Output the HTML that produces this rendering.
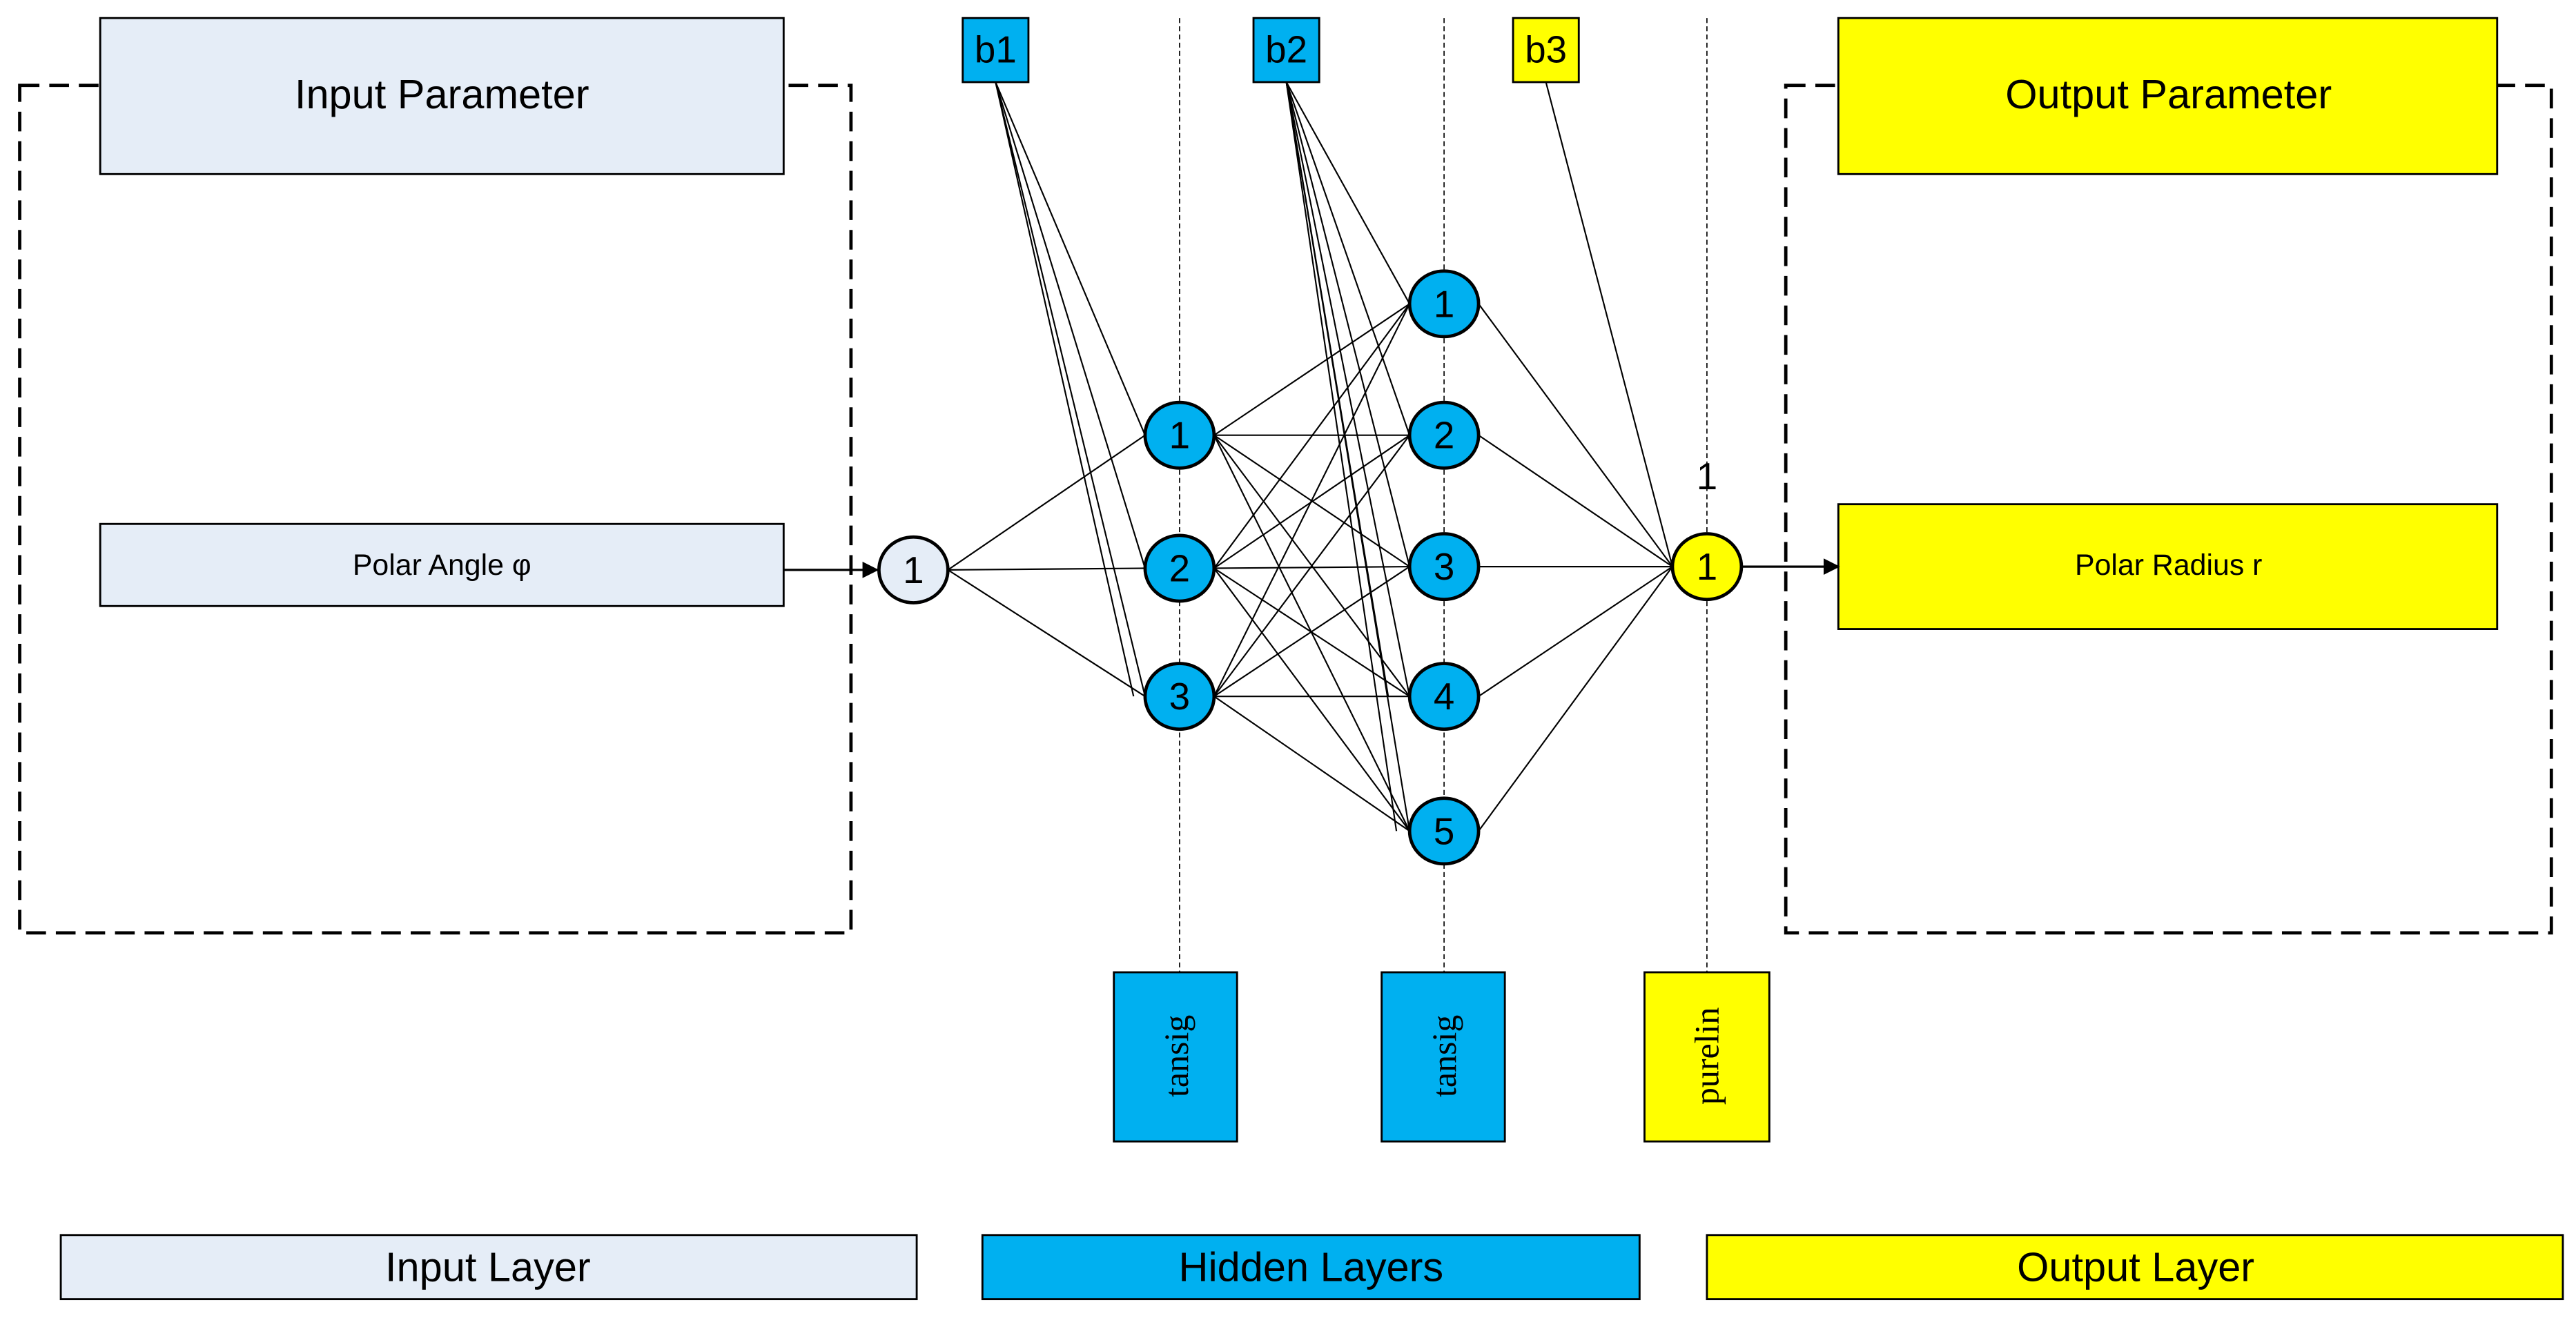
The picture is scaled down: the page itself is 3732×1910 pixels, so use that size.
<!DOCTYPE html>
<html><head><meta charset="utf-8"><style>
html,body{margin:0;padding:0;background:#fff;}
svg{display:block;}
text{font-family:"Liberation Sans",sans-serif;}
</style></head><body>
<svg width="3732" height="1910" viewBox="0 0 1568 802.5" preserveAspectRatio="none" xmlns="http://www.w3.org/2000/svg">
<defs>
<marker id="ar" markerWidth="10" markerHeight="10" refX="9" refY="5" orient="auto" markerUnits="userSpaceOnUse"><path d="M0,0 L10,5 L0,10 z" fill="#000"/></marker>
</defs>
<!-- dashed containers -->
<rect x="12" y="52" width="506" height="516" fill="none" stroke="#000" stroke-width="2" stroke-dasharray="12,6"/>
<rect x="1087" y="52" width="466" height="516" fill="none" stroke="#000" stroke-width="2" stroke-dasharray="12,6"/>
<!-- vertical dashed -->
<g stroke="#000" stroke-width="0.7" stroke-dasharray="3,2">
<line x1="718" y1="11" x2="718" y2="592"/>
<line x1="879" y1="11" x2="879" y2="592"/>
<line x1="1039" y1="11" x2="1039" y2="592"/>
</g>
<!-- boxes -->
<g stroke="#000" stroke-width="1.2">
<rect x="61" y="11" width="416" height="95" fill="#e5edf7"/>
<rect x="61" y="319" width="416" height="50" fill="#e5edf7"/>
<rect x="1119" y="11" width="401" height="95" fill="#ffff00"/>
<rect x="1119" y="307" width="401" height="76" fill="#ffff00"/>
<rect x="586" y="11" width="40" height="39" fill="#00b0f0"/>
<rect x="763" y="11" width="40" height="39" fill="#00b0f0"/>
<rect x="921" y="11" width="40" height="39" fill="#ffff00"/>
<rect x="678" y="592" width="75" height="103" fill="#00b0f0"/>
<rect x="841" y="592" width="75" height="103" fill="#00b0f0"/>
<rect x="1001" y="592" width="76" height="103" fill="#ffff00"/>
<rect x="37" y="752" width="521" height="39" fill="#e5edf7"/>
<rect x="598" y="752" width="400" height="39" fill="#00b0f0"/>
<rect x="1039" y="752" width="521" height="39" fill="#ffff00"/>
</g>
<!-- connections -->
<g stroke="#000" stroke-width="0.9" fill="none">
<line x1="577" y1="347" x2="697" y2="265"/>
<line x1="577" y1="347" x2="697" y2="346"/>
<line x1="577" y1="347" x2="697" y2="424"/>
<line x1="606" y1="50" x2="697" y2="265"/>
<line x1="606" y1="50" x2="697" y2="346"/>
<line x1="606" y1="50" x2="697" y2="424"/>
<line x1="606" y1="50" x2="690" y2="424"/>
<line x1="783" y1="50" x2="858" y2="185"/>
<line x1="783" y1="50" x2="858" y2="265"/>
<line x1="783" y1="50" x2="858" y2="345"/>
<line x1="783" y1="50" x2="858" y2="424"/>
<line x1="783" y1="50" x2="858" y2="506"/>
<line x1="783" y1="50" x2="850" y2="506"/>
<line x1="783" y1="50" x2="845" y2="424"/>
<line x1="941" y1="50" x2="1018" y2="345"/>
<g>
<line x1="739" y1="265" x2="858" y2="185"/><line x1="739" y1="265" x2="858" y2="265"/><line x1="739" y1="265" x2="858" y2="345"/><line x1="739" y1="265" x2="858" y2="424"/><line x1="739" y1="265" x2="858" y2="506"/>
<line x1="739" y1="346" x2="858" y2="185"/><line x1="739" y1="346" x2="858" y2="265"/><line x1="739" y1="346" x2="858" y2="345"/><line x1="739" y1="346" x2="858" y2="424"/><line x1="739" y1="346" x2="858" y2="506"/>
<line x1="739" y1="424" x2="858" y2="185"/><line x1="739" y1="424" x2="858" y2="265"/><line x1="739" y1="424" x2="858" y2="345"/><line x1="739" y1="424" x2="858" y2="424"/><line x1="739" y1="424" x2="858" y2="506"/>
</g>
<line x1="900" y1="185" x2="1018" y2="345"/>
<line x1="900" y1="265" x2="1018" y2="345"/>
<line x1="900" y1="345" x2="1018" y2="345"/>
<line x1="900" y1="424" x2="1018" y2="345"/>
<line x1="900" y1="506" x2="1018" y2="345"/>
</g>
<line x1="477" y1="347" x2="534" y2="347" stroke="#000" stroke-width="1.4" marker-end="url(#ar)"/>
<line x1="1060" y1="345" x2="1119" y2="345" stroke="#000" stroke-width="1.4" marker-end="url(#ar)"/>
<!-- nodes -->
<g stroke="#000" stroke-width="2">
<ellipse cx="556" cy="347" rx="21" ry="20" fill="#e5edf7"/>
<ellipse cx="718" cy="265" rx="21" ry="20" fill="#00b0f0"/>
<ellipse cx="718" cy="346" rx="21" ry="20" fill="#00b0f0"/>
<ellipse cx="718" cy="424" rx="21" ry="20" fill="#00b0f0"/>
<ellipse cx="879" cy="185" rx="21" ry="20" fill="#00b0f0"/>
<ellipse cx="879" cy="265" rx="21" ry="20" fill="#00b0f0"/>
<ellipse cx="879" cy="345" rx="21" ry="20" fill="#00b0f0"/>
<ellipse cx="879" cy="424" rx="21" ry="20" fill="#00b0f0"/>
<ellipse cx="879" cy="506" rx="21" ry="20" fill="#00b0f0"/>
<ellipse cx="1039" cy="345" rx="21" ry="20" fill="#ffff00"/>
</g>
<g font-size="23" text-anchor="middle" fill="#000">
<text x="556" y="355">1</text>
<text x="718" y="273">1</text><text x="718" y="354">2</text><text x="718" y="432">3</text>
<text x="879" y="193">1</text><text x="879" y="273">2</text><text x="879" y="353">3</text><text x="879" y="432">4</text><text x="879" y="514">5</text>
<text x="1039" y="353">1</text>
<text x="1039" y="298">1</text>
<text x="606" y="38">b1</text><text x="783" y="38">b2</text><text x="941" y="38">b3</text>
<text x="269" y="66" font-size="25">Input Parameter</text>
<text x="1320" y="66" font-size="25">Output Parameter</text>
<text x="269" y="350" font-size="18">Polar Angle φ</text>
<text x="1320" y="350" font-size="18">Polar Radius r</text>
<text x="297" y="780" font-size="25">Input Layer</text>
<text x="798" y="780" font-size="25">Hidden Layers</text>
<text x="1300" y="780" font-size="25">Output Layer</text>
</g>
<g font-family="Liberation Serif,serif" font-size="21" text-anchor="middle" fill="#000">
<text transform="translate(723,643) rotate(-90)" style="font-family:'Liberation Serif',serif">tansig</text>
<text transform="translate(886,643) rotate(-90)" style="font-family:'Liberation Serif',serif">tansig</text>
<text transform="translate(1046,643) rotate(-90)" style="font-family:'Liberation Serif',serif">purelin</text>
</g>
</svg>
</body></html>
